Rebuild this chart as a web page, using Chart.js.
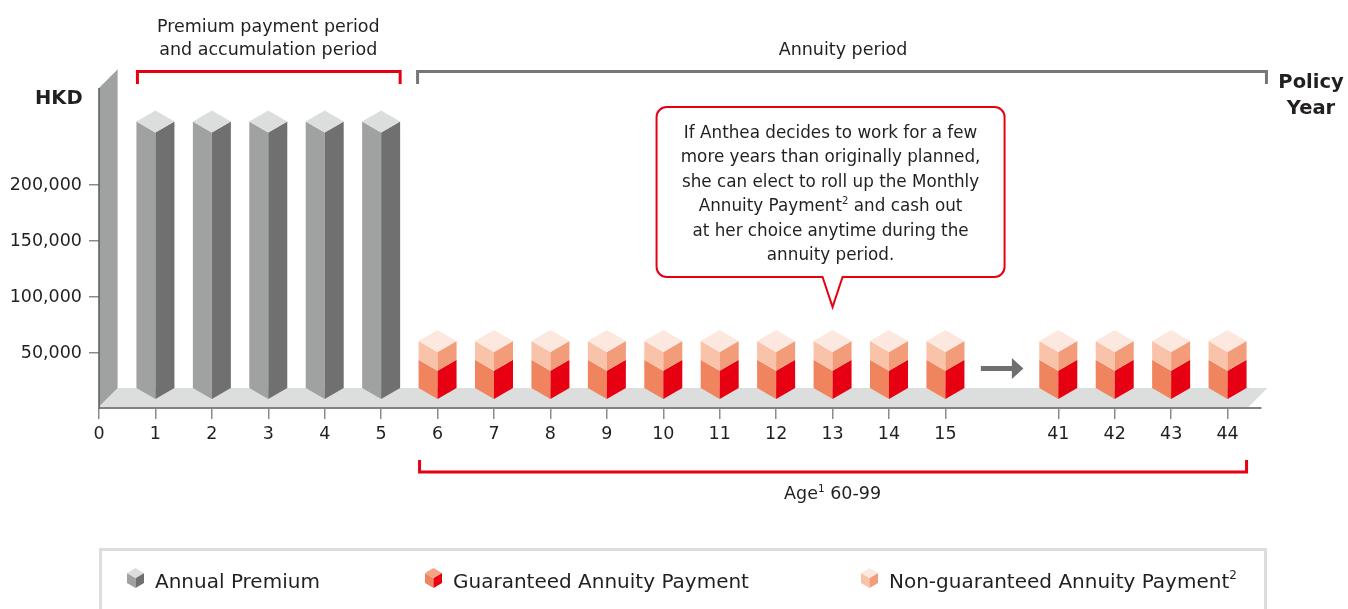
<!DOCTYPE html>
<html>
<head>
<meta charset="utf-8">
<title>Annuity chart</title>
<script src="https://cdn.jsdelivr.net/npm/chart.js@4.4.1/dist/chart.umd.min.js"></script>
<style>
  html, body { margin: 0; padding: 0; background: #fff; }
  #wrap { width: 1348px; height: 609px; }
</style>
</head>
<body>
<div id="wrap"><canvas id="chart" width="1348" height="609"></canvas></div>
<script>
// policy years along the x axis ('' marks the break in the axis and its end)
const categories = ['0', '1', '2', '3', '4', '5', '6', '7', '8', '9', '10', '11', '12', '13', '14', '15', '', '41', '42', '43', '44', ''];

// HKD per policy year
const annualPremium = [null, 238000, 238000, 238000, 238000, 238000, null, null, null, null, null, null, null, null, null, null, null, null, null, null, null, null];
const guaranteedPayment = [null, null, null, null, null, null, 25300, 25300, 25300, 25300, 25300, 25300, 25300, 25300, 25300, 25300, null, 25300, 25300, 25300, 25300, null];
const nonGuaranteedPayment = [null, null, null, null, null, null, 16700, 16700, 16700, 16700, 16700, 16700, 16700, 16700, 16700, 16700, null, 16700, 16700, 16700, 16700, null];

const yTicks = [50000, 100000, 150000, 200000];

const FONT = '"DejaVu Sans", "Liberation Sans", sans-serif';
const INK = '#231f20';
const RED = '#e60012';
const CLEAR = 'rgba(0,0,0,0)';
const DEPTH = 11;   // height of the slanted top edge of a box
const LIFT = 10;    // boxes stand a little back on the floor
const SKEW = 19;    // depth of wall and floor

function fillPoly(c, pts, color) {
  c.beginPath();
  c.moveTo(pts[0][0], pts[0][1]);
  for (let i = 1; i < pts.length; i++) c.lineTo(pts[i][0], pts[i][1]);
  c.closePath();
  c.fillStyle = color;
  c.fill();
}

function drawBox(c, cx, yt, yb, w, d, faces, withTop) {
  fillPoly(c, [[cx - w, yt - d], [cx, yt], [cx, yb], [cx - w, yb - d]], faces.left);
  fillPoly(c, [[cx, yt], [cx + w, yt - d], [cx + w, yb - d], [cx, yb]], faces.right);
  if (withTop) fillPoly(c, [[cx - w, yt - d], [cx, yt], [cx + w, yt - d], [cx, yt - 2 * d]], faces.top);
}

// text made of pieces, some of them superscript
function drawRich(c, parts, x, y, size, align, weight) {
  const fontFor = p => (weight || '') + ' ' + (p.sup ? size * 0.6 : size) + 'px ' + FONT;
  let total = 0;
  parts.forEach(p => { c.font = fontFor(p); total += c.measureText(p.t).width; });
  let cur = align === 'center' ? x - total / 2 : (align === 'right' ? x - total : x);
  c.textAlign = 'left';
  c.textBaseline = 'alphabetic';
  parts.forEach(p => {
    c.font = fontFor(p);
    c.fillText(p.t, cur, p.sup ? y - size * 0.42 : y);
    cur += c.measureText(p.t).width;
  });
}

function bracket(c, x1, x2, yLine, yEnd, color) {
  c.beginPath();
  c.moveTo(x1, yEnd);
  c.lineTo(x1, yLine);
  c.lineTo(x2, yLine);
  c.lineTo(x2, yEnd);
  c.strokeStyle = color;
  c.lineWidth = 3;
  c.lineJoin = 'miter';
  c.stroke();
}

const box3d = {
  id: 'box3d',
  beforeDatasetsDraw(chart) {
    const c = chart.ctx, xs = chart.scales.x, ys = chart.scales.y;
    const x0 = xs.left, y0 = ys.bottom - 2;
    c.save();
    // back wall and floor
    fillPoly(c, [[x0, ys.top + 15], [x0 + SKEW, ys.top - 4], [x0 + SKEW, y0 - SKEW], [x0, y0]], '#a0a1a1');
    const xr = xs.getPixelForValue(20.37);
    fillPoly(c, [[x0, y0], [x0 + SKEW, y0 - SKEW], [xr + SKEW, y0 - SKEW], [xr, y0]], '#dcdddd');
    c.fillStyle = '#c4c5c5';
    c.fillRect(x0 + SKEW - 1, ys.top - 3, 1, y0 - SKEW - ys.top + 3);
    // axes
    c.strokeStyle = '#5a5a5a';
    c.lineWidth = 1.5;
    c.beginPath();
    c.moveTo(x0, ys.top + 15);
    c.lineTo(x0, ys.bottom);
    c.moveTo(x0, ys.bottom - 1);
    c.lineTo(xs.getPixelForValue(20.6), ys.bottom - 1);
    c.stroke();
    c.restore();
  },
  afterDatasetsDraw(chart) {
    const c = chart.ctx, sets = chart.data.datasets;
    c.save();
    sets.forEach((ds, di) => {
      const meta = chart.getDatasetMeta(di);
      meta.data.forEach((el, i) => {
        if (ds.data[i] == null) return;
        const onTop = !sets.slice(di + 1).some(o => o.data[i] != null);
        drawBox(c, el.x, el.y - LIFT, el.base - LIFT, el.width / 2, DEPTH, ds.faces, onTop);
      });
    });
    c.restore();
  },
  afterDraw(chart) {
    const c = chart.ctx, xs = chart.scales.x;
    const px = v => xs.getPixelForValue(v);
    c.save();
    c.fillStyle = INK;

    // period headings and brackets
    c.font = '17.5px ' + FONT;
    c.textAlign = 'center';
    c.textBaseline = 'alphabetic';
    const premMid = (px(1) + px(5)) / 2;
    c.fillText('Premium payment period', premMid, 32);
    c.fillText('and accumulation period', premMid, 54.5);
    c.fillText('Annuity period', 843, 54.5);
    bracket(c, px(1) - 18, px(5) + 19, 71.5, 84, RED);
    bracket(c, px(6) - 20, px(20.37) + SKEW - 1, 71.5, 84, '#777777');
    bracket(c, px(6) - 18, px(20) + 19, 472, 460, RED);
    c.fillStyle = INK;
    drawRich(c, [{ t: 'Age' }, { t: '1', sup: true }, { t: ' 60-99' }], (px(6) + px(20)) / 2, 499, 17.5, 'center');

    // axis titles
    c.font = 'bold 19.5px ' + FONT;
    c.textAlign = 'left';
    c.fillText('HKD', 35, 104);
    c.textAlign = 'center';
    c.fillText('Policy', 1311, 88);
    c.fillText('Year', 1311, 114);

    // arrow across the break
    const ax = px(16), ay = 368.5;
    c.fillStyle = '#6f6f6f';
    c.fillRect(ax - 21, ay - 2.5, 33, 5);
    fillPoly(c, [[ax + 10, ay - 10.5], [ax + 21.5, ay], [ax + 10, ay + 10.5]], '#6f6f6f');

    // callout
    const tip = px(13);
    const bx1 = tip - 176, bx2 = tip + 172, by1 = 107, by2 = 277, r = 10;
    c.beginPath();
    c.moveTo(bx1 + r, by1);
    c.lineTo(bx2 - r, by1);
    c.arcTo(bx2, by1, bx2, by1 + r, r);
    c.lineTo(bx2, by2 - r);
    c.arcTo(bx2, by2, bx2 - r, by2, r);
    c.lineTo(tip + 10, by2);
    c.lineTo(tip, 307);
    c.lineTo(tip - 10, by2);
    c.lineTo(bx1 + r, by2);
    c.arcTo(bx1, by2, bx1, by2 - r, r);
    c.lineTo(bx1, by1 + r);
    c.arcTo(bx1, by1, bx1 + r, by1, r);
    c.closePath();
    c.fillStyle = '#fff';
    c.fill();
    c.strokeStyle = RED;
    c.lineWidth = 2;
    c.stroke();
    c.fillStyle = INK;
    const lines = [
      [{ t: 'If Anthea decides to work for a few' }],
      [{ t: 'more years than originally planned,' }],
      [{ t: 'she can elect to roll up the Monthly' }],
      [{ t: 'Annuity Payment' }, { t: '2', sup: true }, { t: ' and cash out' }],
      [{ t: 'at her choice anytime during the' }],
      [{ t: 'annuity period.' }]
    ];
    const cx = (bx1 + bx2) / 2;
    lines.forEach((ln, i) => drawRich(c, ln, cx, 138 + i * 24.4, 16.8, 'center'));

    // legend
    c.strokeStyle = '#dcdddd';
    c.lineWidth = 3;
    c.strokeRect(100.5, 549.5, 1165, 80);
    const legendX = [127, 425, 861];
    const notes = ['', '', '2'];
    chart.data.datasets.forEach((ds, i) => {
      const lx = legendX[i];
      drawBox(c, lx + 8.5, 578, 588, 8.5, 5, ds.faces, true);
      c.fillStyle = INK;
      const parts = [{ t: ds.label }];
      if (notes[i]) parts.push({ t: notes[i], sup: true });
      drawRich(c, parts, lx + 28, 587.5, 20, 'left');
    });
    c.restore();
  }
};

const ctx = document.getElementById('chart').getContext('2d');
new Chart(ctx, {
  type: 'bar',
  data: {
    labels: categories,
    datasets: [
      {
        label: 'Annual Premium',
        data: annualPremium,
        backgroundColor: CLEAR,
        borderColor: CLEAR,
        borderWidth: 0,
        faces: { left: '#a0a1a1', right: '#707070', top: '#dcdddd' }
      },
      {
        label: 'Guaranteed Annuity Payment',
        data: guaranteedPayment,
        backgroundColor: CLEAR,
        borderColor: CLEAR,
        borderWidth: 0,
        faces: { left: '#f0845e', right: RED, top: '#f4a283' }
      },
      {
        label: 'Non-guaranteed Annuity Payment',
        data: nonGuaranteedPayment,
        backgroundColor: CLEAR,
        borderColor: CLEAR,
        borderWidth: 0,
        faces: { left: '#f8c3a9', right: '#f29c7a', top: '#fde8df' }
      }
    ]
  },
  options: {
    responsive: false,
    animation: false,
    events: [],
    layout: { padding: { left: 0, right: 64, top: 73, bottom: 0 } },
    plugins: { legend: { display: false }, tooltip: { enabled: false }, colors: { enabled: false } },
    datasets: { bar: { barThickness: 38 } },
    scales: {
      x: {
        stacked: true,
        offset: false,
        grid: { offset: false, drawOnChartArea: false, drawTicks: true, tickLength: 10, color: '#8c8c8c', lineWidth: 1.5 },
        border: { display: false },
        ticks: { autoSkip: false, maxRotation: 0, padding: 5, color: INK, font: { family: FONT, size: 17.5 } },
        afterBuildTicks: s => { s.ticks = s.ticks.filter(t => categories[t.value] !== ''); },
        afterFit: s => { s.height = 200; }
      },
      y: {
        stacked: true,
        min: 0,
        max: 300000,
        grid: { drawOnChartArea: false, drawTicks: true, tickLength: 10, color: '#8c8c8c', lineWidth: 1.5 },
        border: { display: false },
        ticks: { padding: 7, color: INK, font: { family: FONT, size: 17.5 }, callback: v => v.toLocaleString('en-US') },
        afterBuildTicks: s => { s.ticks = yTicks.map(v => ({ value: v })); },
        afterFit: s => { s.width = 99; }
      }
    }
  },
  plugins: [box3d]
});
</script>
</body>
</html>
